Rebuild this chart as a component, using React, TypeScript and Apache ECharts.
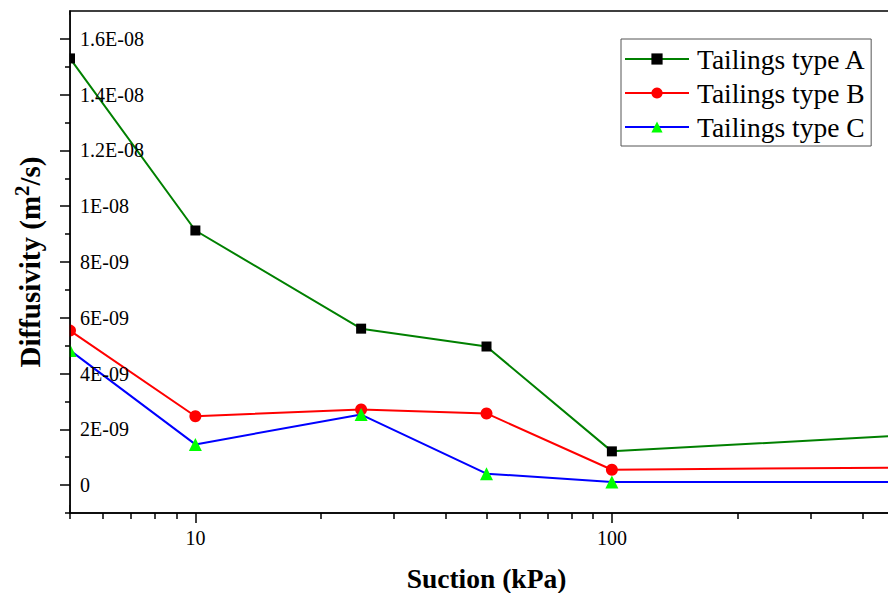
import React, { useEffect, useRef } from "react";
import * as echarts from "echarts";

const suction = [5, 10, 25, 50, 100, 500];
const typeA = [1.53e-8, 9.13e-9, 5.61e-9, 4.97e-9, 1.21e-9, 1.78e-9];
const typeB = [5.54e-9, 2.47e-9, 2.71e-9, 2.57e-9, 0.55e-9, 0.63e-9];
const typeC = [4.83e-9, 1.46e-9, 2.53e-9, 0.41e-9, 0.11e-9, 0.11e-9];

const seriesNames = ["Tailings type A", "Tailings type B", "Tailings type C"];

const yTickValues = [0, 2e-9, 4e-9, 6e-9, 8e-9, 1e-8, 1.2e-8, 1.4e-8, 1.6e-8];
const yTickLabels = ["0", "2E-09", "4E-09", "6E-09", "8E-09", "1E-08", "1.2E-08", "1.4E-08", "1.6E-08"];
const yMinorTicks = [-1e-9, 1e-9, 3e-9, 5e-9, 7e-9, 9e-9, 1.1e-8, 1.3e-8, 1.5e-8];

const xTickValues = [10, 100];
const xTickLabels = ["10", "100"];
const xMinorTicks = [5, 6, 7, 8, 9, 20, 30, 40, 50, 60, 70, 80, 90, 200, 300, 400];

const X_MIN = 5;
const X_MAX = 500;
const Y_MIN = -1e-9;
const Y_MAX = 1.7e-8;

const FONT = "Liberation Serif";

export default function App() {
  const ref = useRef<HTMLDivElement>(null);

  useEffect(() => {
    if (!ref.current) return;
    const chart = echarts.init(ref.current, null, { renderer: "svg" });
    const lg = (v: number) => Math.log10(v);

    const baseX = {
      type: "value" as const,
      min: lg(X_MIN),
      max: lg(X_MAX),
      position: "bottom" as const,
      splitLine: { show: false },
      z: 10,
    };
    const baseY = {
      type: "value" as const,
      min: Y_MIN,
      max: Y_MAX,
      position: "left" as const,
      splitLine: { show: false },
      z: 10,
    };

    const mk = (vals: number[]) => suction.map((s, i) => [lg(s), vals[i]]);

    chart.setOption({
      animation: false,
      backgroundColor: "#fff",
      textStyle: { fontFamily: FONT },
      grid: {
        left: 70,
        top: 11,
        right: -15,
        bottom: 80,
        containLabel: false,
        outerBoundsMode: "none",
        show: true,
        borderColor: "#000",
        borderWidth: 1.5,
        backgroundColor: "transparent",
      },
      xAxis: [
        {
          ...baseX,
          name: "Suction (kPa)",
          nameLocation: "middle",
          nameGap: 51,
          nameTextStyle: { fontFamily: FONT, fontSize: 27.5, fontWeight: "bold", color: "#000" },
          axisLine: { show: true, onZero: false, lineStyle: { color: "#000", width: 1.5 } },
          axisTick: {
            show: true,
            length: 10,
            lineStyle: { color: "#000", width: 1.5 },
            customValues: xTickValues.map(lg),
          },
          axisLabel: {
            show: true,
            margin: 15,
            fontFamily: FONT,
            fontSize: 20,
            color: "#000",
            customValues: xTickValues.map(lg),
            formatter: (v: number) => {
              const i = xTickValues.findIndex((t) => Math.abs(lg(t) - v) < 1e-6);
              return i >= 0 ? xTickLabels[i] : "";
            },
          },
        },
        {
          ...baseX,
          axisLine: { show: false, onZero: false },
          axisTick: {
            show: true,
            length: 6,
            lineStyle: { color: "#000", width: 1.5 },
            customValues: xMinorTicks.map(lg),
          },
          axisLabel: { show: false },
        },
      ],
      yAxis: [
        {
          ...baseY,
          name: "{a|Diffusivity (m}{s|2}{a|/s)}",
          nameLocation: "middle",
          nameRotate: 90,
          nameGap: 22,
          nameTextStyle: {
            rich: {
              a: { fontFamily: FONT, fontSize: 29, fontWeight: "bold", color: "#000" },
              s: { fontFamily: FONT, fontSize: 21, fontWeight: "bold", color: "#000", padding: [0, 0, 16, 0] },
            },
          },
          axisLine: { show: true, onZero: false, lineStyle: { color: "#000", width: 1.5 } },
          axisTick: {
            show: true,
            length: 10,
            lineStyle: { color: "#000", width: 1.5 },
            customValues: yTickValues,
          },
          axisLabel: {
            show: true,
            inside: true,
            margin: 10,
            fontFamily: FONT,
            fontSize: 20,
            color: "#000",
            customValues: yTickValues,
            formatter: (v: number) => {
              const i = yTickValues.findIndex((t) => Math.abs(t - v) < 1e-12);
              return i >= 0 ? yTickLabels[i] : "";
            },
          },
        },
        {
          ...baseY,
          axisLine: { show: false, onZero: false },
          axisTick: {
            show: true,
            length: 5,
            lineStyle: { color: "#000", width: 1.5 },
            customValues: yMinorTicks,
          },
          axisLabel: { show: false },
        },
      ],
      legend: {
        orient: "vertical",
        left: 621,
        top: 39,
        backgroundColor: "#fff",
        borderColor: "#555",
        borderWidth: 1,
        padding: [6, 5, 5, 3],
        itemWidth: 64,
        itemHeight: 14,
        itemGap: 6,
        textStyle: { fontFamily: FONT, fontSize: 27.5, color: "#000", lineHeight: 26, padding: [0, 0, 0, 3] },
        data: seriesNames,
        z: 20,
      },
      graphic: [
        {
          type: "rect",
          shape: { x: 0, y: 15, width: 69.3, height: 490 },
          style: { fill: "#fff" },
          z: 5,
          silent: true,
        },
      ],
      series: [
        {
          name: seriesNames[0],
          type: "line",
          data: mk(typeA),
          symbol: "rect",
          symbolSize: 10,
          itemStyle: { color: "#000" },
          lineStyle: { color: "#008000", width: 2 },
          z: 3,
        },
        {
          name: seriesNames[1],
          type: "line",
          data: mk(typeB),
          symbol: "circle",
          symbolSize: 12,
          itemStyle: { color: "#ff0000" },
          lineStyle: { color: "#ff0000", width: 2 },
          z: 3,
        },
        {
          name: seriesNames[2],
          type: "line",
          data: mk(typeC),
          symbol: "triangle",
          symbolSize: 13,
          itemStyle: { color: "#00ff00" },
          lineStyle: { color: "#0000ff", width: 2 },
          z: 3,
        },
      ],
    });

    return () => chart.dispose();
  }, []);

  return (
    <div
      ref={ref}
      style={{ position: "fixed", left: 0, top: 0, width: 888, height: 593, background: "#fff" }}
    />
  );
}
